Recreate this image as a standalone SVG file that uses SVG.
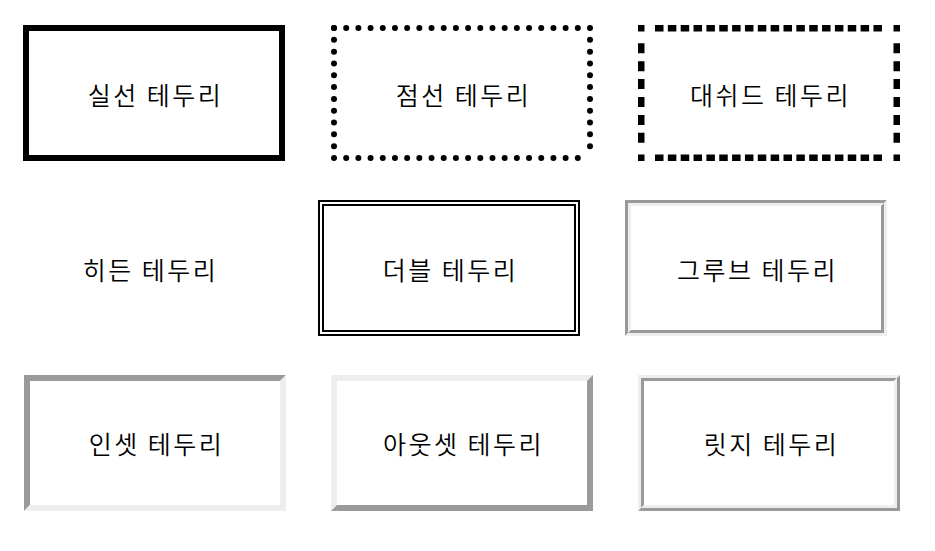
<svg xmlns="http://www.w3.org/2000/svg" width="935" height="551" viewBox="0 0 935 551">
<style>
text{font-family:"Noto Sans CJK KR","Noto Sans",sans-serif;font-size:25px;font-weight:350;letter-spacing:2.5px;fill:#000;text-anchor:middle;dominant-baseline:central}
.dk{fill:#9a9a9a}
.lt{fill:#eeeeee}
.blk{fill:none;stroke:#000}
</style>
<rect width="935" height="551" fill="#fff"/>
<g id="solid">
<rect class="blk" x="26" y="28" width="256" height="130" stroke-width="6"/>
<text x="155.5" y="94">실선 테두리</text>
</g>
<g id="dotted">
<g class="blk" stroke-width="6" stroke-linecap="round" stroke-dasharray="0 1">
<path d="M334 28H590" pathLength="21"/>
<path d="M334 158H590" pathLength="21"/>
<path d="M334 28V158" pathLength="11"/>
<path d="M590 28V158" pathLength="11"/>
</g>
<text x="463.5" y="94">점선 테두리</text>
</g>
<g id="dashed">
<g fill="#000">
<rect x="638" y="25" width="6.5" height="6.5"/>
<rect x="893.5" y="25" width="6.5" height="6.5"/>
<rect x="638" y="154.5" width="6.5" height="6.5"/>
<rect x="893.5" y="154.5" width="6.5" height="6.5"/>
</g>
<g class="blk" stroke-width="6.5">
<path d="M655 28.25H883" stroke-dasharray="8.5 4.35"/>
<path d="M655 157.75H883" stroke-dasharray="8.5 4.35"/>
<path d="M641.25 43.3V142.7" stroke-dasharray="10 7.9"/>
<path d="M896.75 43.3V142.7" stroke-dasharray="10 7.9"/>
</g>
<text x="770.5" y="94">대쉬드 테두리</text>
</g>
<g id="hidden">
<text x="150.5" y="269">히든 테두리</text>
</g>
<g id="double">
<rect class="blk" x="319" y="201" width="260" height="134" stroke-width="2"/>
<rect class="blk" x="323" y="205" width="252" height="126" stroke-width="2"/>
<text x="450.5" y="269">더블 테두리</text>
</g>
<g id="groove">
<polygon class="dk" points="625,336 625,200 887,200 884,203 628,203 628,333"/>
<polygon class="lt" points="887,200 887,336 625,336 628,333 884,333 884,203"/>
<polygon class="lt" points="628,333 628,203 884,203 881,206 631,206 631,330"/>
<polygon class="dk" points="884,203 884,333 628,333 631,330 881,330 881,206"/>
<text x="757.5" y="269">그루브 테두리</text>
</g>
<g id="inset">
<polygon class="dk" points="24,511 24,375 286,375 280,381 30,381 30,505"/>
<polygon class="lt" points="286,375 286,511 24,511 30,505 280,505 280,381"/>
<text x="156.5" y="443">인셋 테두리</text>
</g>
<g id="outset">
<polygon class="lt" points="331,511 331,375 593,375 587,381 337,381 337,505"/>
<polygon class="dk" points="593,375 593,511 331,511 337,505 587,505 587,381"/>
<text x="463.5" y="443">아웃셋 테두리</text>
</g>
<g id="ridge">
<polygon class="lt" points="638,511 638,375 900,375 897,378 641,378 641,508"/>
<polygon class="dk" points="900,375 900,511 638,511 641,508 897,508 897,378"/>
<polygon class="dk" points="641,508 641,378 897,378 894,381 644,381 644,505"/>
<polygon class="lt" points="897,378 897,508 641,508 644,505 894,505 894,381"/>
<text x="771.5" y="443">릿지 테두리</text>
</g>
<g id="connectors"/>
</svg>
